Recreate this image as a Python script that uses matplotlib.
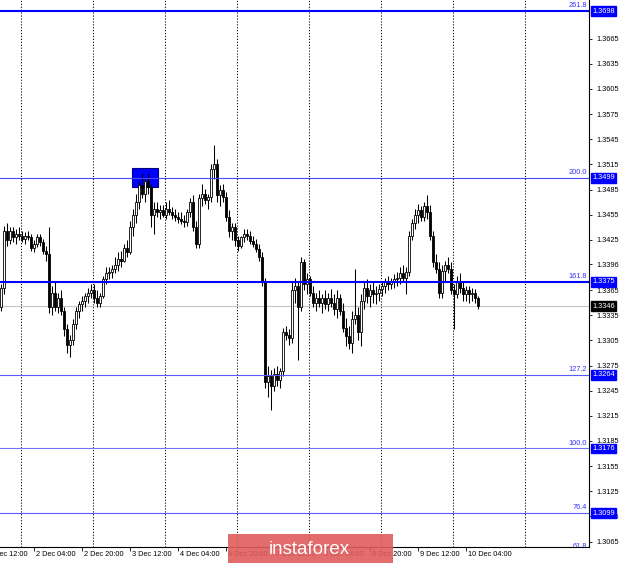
import matplotlib
matplotlib.use("Agg")
import matplotlib.pyplot as plt
from matplotlib.patches import Rectangle

# hourly candles, 1 Dec 17:00 -> 10 Dec 08:00
opens = [1.3345, 1.3368, 1.3435, 1.3425, 1.3435, 1.3428, 1.3432, 1.3430, 1.3426, 1.3430,
         1.3428, 1.3415, 1.3420, 1.3428, 1.3422, 1.3412, 1.3408, 1.3345, 1.3362, 1.3345,
         1.3355, 1.3340, 1.3318, 1.3300, 1.3305, 1.3325, 1.3340, 1.3348, 1.3352, 1.3358,
         1.3362, 1.3365, 1.3355, 1.3350, 1.3358, 1.3378, 1.3385, 1.3386, 1.3390, 1.3395,
         1.3402, 1.3400, 1.3415, 1.3410, 1.3440, 1.3455, 1.3470, 1.3490, 1.3480, 1.3495,
         1.3488, 1.3455, 1.3462, 1.3458, 1.3460, 1.3455, 1.3462, 1.3458, 1.3455, 1.3452,
         1.3450, 1.3448, 1.3446, 1.3458, 1.3470, 1.3440, 1.3420, 1.3475, 1.3480, 1.3472,
         1.3476, 1.3510, 1.3515, 1.3478, 1.3484, 1.3476, 1.3452, 1.3435, 1.3440, 1.3425,
         1.3418, 1.3428, 1.3432, 1.3430, 1.3424, 1.3420, 1.3414, 1.3405, 1.3375, 1.3255,
         1.3262, 1.3250, 1.3265, 1.3258, 1.3268, 1.3315, 1.3312, 1.3308, 1.3365, 1.3370,
         1.3345, 1.3398, 1.3372, 1.3378, 1.3362, 1.3350, 1.3356, 1.3350, 1.3355, 1.3348,
         1.3355, 1.3350, 1.3342, 1.3355, 1.3340, 1.3320, 1.3310, 1.3302, 1.3330, 1.3335,
         1.3315, 1.3352, 1.3368, 1.3358, 1.3365, 1.3360, 1.3362, 1.3366, 1.3370, 1.3375,
         1.3372, 1.3376, 1.3378, 1.3380, 1.3385, 1.3380, 1.3386, 1.3430, 1.3445, 1.3455,
         1.3460, 1.3452, 1.3465, 1.3458, 1.3430, 1.3398, 1.3390, 1.3362, 1.3388, 1.3395,
         1.3390, 1.3365, 1.3360, 1.3375, 1.3368, 1.3360, 1.3365, 1.3360, 1.3362, 1.3355]
highs = [1.3372, 1.3442, 1.3445, 1.3440, 1.3440, 1.3438, 1.3440, 1.3436, 1.3434, 1.3436,
         1.3432, 1.3425, 1.3432, 1.3432, 1.3426, 1.3418, 1.3440, 1.3370, 1.3375, 1.3362,
         1.3365, 1.3345, 1.3325, 1.3312, 1.3330, 1.3345, 1.3352, 1.3358, 1.3362, 1.3368,
         1.3372, 1.3372, 1.3365, 1.3362, 1.3382, 1.3392, 1.3392, 1.3395, 1.3405, 1.3410,
         1.3412, 1.3420, 1.3425, 1.3448, 1.3462, 1.3480, 1.3495, 1.3505, 1.3500, 1.3505,
         1.3492, 1.3470, 1.3470, 1.3466, 1.3466, 1.3470, 1.3472, 1.3464, 1.3462, 1.3458,
         1.3458, 1.3455, 1.3462, 1.3475, 1.3478, 1.3448, 1.3480, 1.3492, 1.3486, 1.3480,
         1.3515, 1.3538, 1.3522, 1.3490, 1.3492, 1.3482, 1.3460, 1.3445, 1.3445, 1.3430,
         1.3430, 1.3438, 1.3438, 1.3435, 1.3430, 1.3426, 1.3420, 1.3410, 1.3380, 1.3275,
         1.3270, 1.3272, 1.3275, 1.3272, 1.3320, 1.3322, 1.3318, 1.3375, 1.3380, 1.3375,
         1.3405, 1.3402, 1.3385, 1.3382, 1.3370, 1.3362, 1.3365, 1.3360, 1.3365, 1.3362,
         1.3366, 1.3360, 1.3365, 1.3360, 1.3350, 1.3332, 1.3322, 1.3340, 1.3390, 1.3345,
         1.3360, 1.3375, 1.3378, 1.3372, 1.3376, 1.3370, 1.3372, 1.3376, 1.3380, 1.3382,
         1.3380, 1.3384, 1.3386, 1.3392, 1.3395, 1.3392, 1.3435, 1.3450, 1.3462, 1.3468,
         1.3465, 1.3470, 1.3478, 1.3466, 1.3435, 1.3408, 1.3398, 1.3395, 1.3400, 1.3405,
         1.3398, 1.3372, 1.3382, 1.3385, 1.3375, 1.3370, 1.3370, 1.3368, 1.3366, 1.3358]
lows = [1.3340, 1.3360, 1.3418, 1.3420, 1.3422, 1.3420, 1.3425, 1.3422, 1.3420, 1.3425,
        1.3412, 1.3410, 1.3416, 1.3418, 1.3408, 1.3400, 1.3338, 1.3335, 1.3340, 1.3338,
        1.3335, 1.3310, 1.3290, 1.3285, 1.3300, 1.3318, 1.3332, 1.3340, 1.3345, 1.3350,
        1.3355, 1.3350, 1.3345, 1.3345, 1.3355, 1.3372, 1.3378, 1.3380, 1.3385, 1.3388,
        1.3392, 1.3398, 1.3405, 1.3408, 1.3430, 1.3445, 1.3462, 1.3475, 1.3470, 1.3480,
        1.3440, 1.3432, 1.3452, 1.3450, 1.3452, 1.3450, 1.3455, 1.3450, 1.3448, 1.3445,
        1.3444, 1.3440, 1.3442, 1.3452, 1.3435, 1.3415, 1.3415, 1.3465, 1.3468, 1.3462,
        1.3470, 1.3498, 1.3470, 1.3465, 1.3470, 1.3448, 1.3428, 1.3425, 1.3418, 1.3412,
        1.3415, 1.3422, 1.3425, 1.3420, 1.3416, 1.3410, 1.3400, 1.3370, 1.3248, 1.3238,
        1.3222, 1.3245, 1.3250, 1.3248, 1.3262, 1.3305, 1.3300, 1.3302, 1.3350, 1.3282,
        1.3340, 1.3365, 1.3360, 1.3358, 1.3345, 1.3340, 1.3345, 1.3338, 1.3342, 1.3340,
        1.3345, 1.3335, 1.3332, 1.3335, 1.3315, 1.3298, 1.3295, 1.3290, 1.3325, 1.3305,
        1.3298, 1.3342, 1.3350, 1.3345, 1.3350, 1.3348, 1.3352, 1.3358, 1.3362, 1.3365,
        1.3366, 1.3368, 1.3370, 1.3372, 1.3376, 1.3360, 1.3382, 1.3425, 1.3438, 1.3445,
        1.3448, 1.3448, 1.3450, 1.3425, 1.3392, 1.3385, 1.3355, 1.3355, 1.3375, 1.3385,
        1.3360, 1.3318, 1.3355, 1.3362, 1.3352, 1.3352, 1.3350, 1.3352, 1.3350, 1.3342]
closes = [1.3368, 1.3435, 1.3425, 1.3435, 1.3428, 1.3432, 1.3430, 1.3426, 1.3430, 1.3428,
          1.3415, 1.3420, 1.3428, 1.3422, 1.3412, 1.3408, 1.3345, 1.3362, 1.3345, 1.3355,
          1.3340, 1.3318, 1.3300, 1.3305, 1.3325, 1.3340, 1.3348, 1.3352, 1.3358, 1.3362,
          1.3365, 1.3355, 1.3350, 1.3358, 1.3378, 1.3385, 1.3386, 1.3390, 1.3395, 1.3402,
          1.3400, 1.3415, 1.3410, 1.3440, 1.3455, 1.3470, 1.3490, 1.3480, 1.3495, 1.3488,
          1.3455, 1.3462, 1.3458, 1.3460, 1.3455, 1.3462, 1.3458, 1.3455, 1.3452, 1.3450,
          1.3448, 1.3446, 1.3458, 1.3470, 1.3440, 1.3420, 1.3475, 1.3480, 1.3472, 1.3476,
          1.3510, 1.3515, 1.3478, 1.3484, 1.3476, 1.3452, 1.3435, 1.3440, 1.3425, 1.3418,
          1.3428, 1.3432, 1.3430, 1.3424, 1.3420, 1.3414, 1.3405, 1.3375, 1.3255, 1.3262,
          1.3250, 1.3265, 1.3258, 1.3268, 1.3315, 1.3312, 1.3308, 1.3365, 1.3370, 1.3345,
          1.3398, 1.3372, 1.3378, 1.3362, 1.3350, 1.3356, 1.3350, 1.3355, 1.3348, 1.3355,
          1.3350, 1.3342, 1.3355, 1.3340, 1.3320, 1.3310, 1.3302, 1.3330, 1.3335, 1.3315,
          1.3352, 1.3368, 1.3358, 1.3365, 1.3360, 1.3362, 1.3366, 1.3370, 1.3375, 1.3372,
          1.3376, 1.3378, 1.3380, 1.3385, 1.3380, 1.3386, 1.3430, 1.3445, 1.3455, 1.3460,
          1.3452, 1.3465, 1.3458, 1.3430, 1.3398, 1.3390, 1.3362, 1.3388, 1.3395, 1.3390,
          1.3365, 1.3360, 1.3375, 1.3368, 1.3360, 1.3365, 1.3360, 1.3362, 1.3355, 1.3346]

time_pos = [-5, 11, 27, 43, 59, 75, 91, 107, 123, 139, 155]
time_labels = ['1 Dec 12:00', '2 Dec 04:00', '2 Dec 20:00', '3 Dec 12:00',
               '4 Dec 04:00', '4 Dec 20:00', '7 Dec 12:00', '8 Dec 04:00',
               '8 Dec 20:00', '9 Dec 12:00', '10 Dec 04:00']
day_starts = [7, 31, 55, 79, 103, 127, 151, 175]

price_ticks = [1.3665, 1.3635, 1.3605, 1.3575, 1.3545, 1.3515, 1.3485, 1.3455,
               1.3425, 1.3396, 1.3365, 1.3335, 1.3305, 1.3275, 1.3245, 1.3215,
               1.3185, 1.3155, 1.3125, 1.3095, 1.3065]

fib_names = ['261.8', '200.0', '161.8', '127.2', '100.0', '76.4', '61.8']
fib_prices = [1.3698, 1.3499, 1.3375, 1.3264, 1.3176, 1.3099, 1.3053]
fib_widths = [1.5, 0.8, 1.5, 0.8, 0.8, 0.8, 0.8]
fib_colors = ['#0000ff', '#4848ff', '#0000ff', '#5a5aff', '#7070ff', '#5a5aff', '#5a5aff']
last_price = 1.3346

FONT = 'Liberation Sans'
BLUE = '#0000ff'


def main():
    fig = plt.figure(figsize=(6.2, 5.63), dpi=100)
    ax = fig.add_axes([0, 16 / 563, 589 / 620, 547 / 563])
    ax.set_xlim(-0.33, 196)
    ax.set_ylim(1.305846, 1.371113)

    for d in day_starts:
        ax.axvline(d - 0.3, color='black', lw=0.7, ls=(0, (1.2, 1.8)), zorder=0)

    ax.axhline(last_price, color='#c8c8c8', lw=0.9, zorder=1)

    # highlight box on the 200.0 level
    ax.add_patch(Rectangle((43.8, fib_prices[1] - 0.00115), 8.6, 0.0023,
                           fc=BLUE, ec='#000080', lw=0.8, zorder=1.5))

    for i in range(len(closes)):
        o, h, l, c = opens[i], highs[i], lows[i], closes[i]
        ax.vlines(i, l, h, color='black', lw=0.75, zorder=2)
        up = c >= o
        ax.add_patch(Rectangle((i - 0.32, min(o, c)), 0.64, max(abs(c - o), 0.00006),
                               fc='white' if up else 'black', ec='black',
                               lw=0.6, zorder=2.5))

    for name, p, w, col in zip(fib_names, fib_prices, fib_widths, fib_colors):
        ax.axhline(p, color=col, lw=w, zorder=3)
        ax.text(195.3, p + 0.0002, name, color='#3333ff', fontsize=5.3, family=FONT,
                ha='right', va='bottom', zorder=4, clip_on=True)
        if p > 1.306:
            ax.text(1.006, p, f'{p:.4f}', transform=ax.get_yaxis_transform(),
                    color='white', fontsize=5.3, family=FONT, ha='left', va='center',
                    bbox=dict(boxstyle='square,pad=0.18', fc=BLUE, ec=BLUE), zorder=5,
                    clip_on=False)

    ax.text(1.006, last_price, f'{last_price:.4f}', transform=ax.get_yaxis_transform(),
            color='white', fontsize=5.3, family=FONT, ha='left', va='center',
            bbox=dict(boxstyle='square,pad=0.18', fc='black', ec='black'), zorder=5,
            clip_on=False)

    ax.yaxis.tick_right()
    ax.set_yticks(price_ticks)
    ax.set_yticklabels([f'{t:.4f}' for t in price_ticks], fontsize=5.3, family=FONT)
    ax.tick_params(axis='y', length=2.5, width=0.6, pad=2.5, direction='out')

    ax.set_xticks(time_pos[1:])
    ax.set_xticklabels([])
    ax.tick_params(axis='x', length=3, width=0.6, direction='out')
    for pos, lab in zip(time_pos, time_labels):
        ax.annotate(lab, xy=(pos, 0), xycoords=('data', 'axes fraction'),
                    xytext=(1.5, -3), textcoords='offset points', ha='left', va='top',
                    fontsize=5.3, family=FONT, annotation_clip=False)

    for s in ['left', 'top']:
        ax.spines[s].set_visible(False)
    for s in ['right', 'bottom']:
        ax.spines[s].set_linewidth(0.8)

    # watermark
    fig.patches.append(Rectangle((228 / 620, 0), 165 / 620, 29 / 563,
                                 transform=fig.transFigure, fc='#e05c5c',
                                 ec='none', alpha=0.9, zorder=10))
    fig.text(309 / 620, 14 / 563, 'instaforex', color='white', fontsize=13.5,
             family=FONT, ha='center', va='center', zorder=11)

    fig.savefig('out.png', dpi=100)


if __name__ == "__main__":
    main()
